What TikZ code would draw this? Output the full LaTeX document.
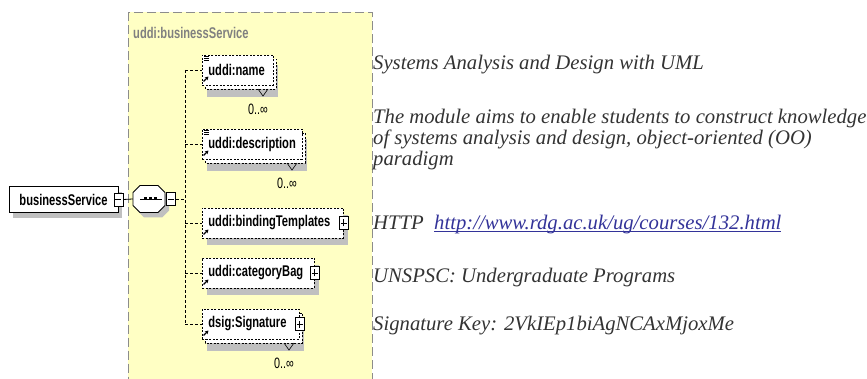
\documentclass[tikz,border=0pt]{standalone}
\usepackage{fontspec}
\setmainfont{Liberation Serif}
\newfontfamily\xsdfont[FakeStretch=0.72]{Liberation Sans}
\usepackage{tikz}
\usetikzlibrary{arrows.meta, positioning, calc}
\definecolor{xsdYellow}{HTML}{FFFFC4}
\definecolor{frameGray}{HTML}{8C8C8C}
\definecolor{labelGray}{HTML}{808080}
\definecolor{shadowGray}{HTML}{C0C0C0}
\definecolor{descGray}{HTML}{333333}
\definecolor{urlBlue}{HTML}{333399}
\tikzset{
    xsdbold/.style={font=\xsdfont\bfseries\fontsize{15.5}{17}\selectfont},
    elembox/.style={xsdbold, draw, fill=white, line width=0.8pt, dash pattern=on 2pt off 1.5pt,
        inner xsep=6pt, inner ysep=0pt, minimum height=30pt, align=left},
    backbox/.style={draw, fill=white, line width=0.8pt, dash pattern=on 2pt off 1.5pt},
    pmbox/.style={draw, fill=white, line width=0.7pt, inner sep=0pt, minimum width=9pt, minimum height=13pt},
    plusbox/.style={pmbox, path picture={
        \draw[line width=0.7pt] ([xshift=-3pt]path picture bounding box.center) -- ([xshift=3pt]path picture bounding box.center)
            ([yshift=-3.5pt]path picture bounding box.center) -- ([yshift=3.5pt]path picture bounding box.center);}},
    minusbox/.style={pmbox, path picture={
        \draw[line width=0.7pt] ([xshift=-3pt]path picture bounding box.center) -- ([xshift=3pt]path picture bounding box.center);}},
    busline/.style={line width=0.8pt, dash pattern=on 3pt off 2pt},
    occurs/.style={font=\xsdfont\fontsize{15}{15}\selectfont, inner sep=0pt},
    desc/.style={font=\itshape\fontsize{20.7}{21}\selectfont, text=descGray, inner sep=0pt},
}
% underline like a browser link
\newcommand{\WebLink}[1]{\setbox0=\hbox{#1}\rlap{\rule[-2.2pt]{\wd0}{0.9pt}}\box0}
% single child element: name, centre y, box width, text
\newcommand{\XsdElem}[4]{
    \pgfmathsetlengthmacro{\elemTW}{#3-12}
    \fill[shadowGray] (207,#2-8) rectangle (207+#3,#2+22);
    \node[elembox, text width=\elemTW, anchor=west] (#1) at (202,#2) {\mbox{#4}};
    \draw[line width=1.2pt, -{Stealth[length=3.5pt, width=4pt]}] (203.5,#2+11.5) -- (208.5,#2+6.5);
}
% repeated child element (0..unbounded)
\newcommand{\XsdRepElem}[4]{
    \pgfmathsetlengthmacro{\elemTW}{#3-12}
    \fill[shadowGray] (207,#2-5) rectangle (207+#3,#2+27);
    \draw[backbox] (205,#2-11) rectangle (205+#3,#2+19);
    \draw[line width=0.6pt] (187+#3,#2+19) -- (192+#3,#2+26) -- (197+#3,#2+19);
    \node[elembox, text width=\elemTW, anchor=west] (#1) at (202,#2) {\mbox{#4}};
    \draw[line width=1.2pt, -{Stealth[length=3.5pt, width=4pt]}] (203.5,#2+11.5) -- (208.5,#2+6.5);
    \node[occurs] (#1Occ) at (187+#3,#2+39) {0..∞};
}
\newcommand{\DocIcon}[1]{
    \foreach \dy in {2,4,6} \draw[line width=0.6pt] ($(#1.north west)+(2,\dy)$) -- ++(5,0);
}
\newcommand{\DrawSeq}[2]{
    \begin{scope}[shift={(#1,#2)}]
        \fill[shadowGray, shift={(4,5)}] (-9,-13.5) -- (9,-13.5) -- (16,-6.5) -- (16,6.5) -- (9,13.5) -- (-9,13.5) -- (-16,6.5) -- (-16,-6.5) -- cycle;
        \draw[fill=white, line width=0.8pt] (-9,-13.5) -- (9,-13.5) -- (16,-6.5) -- (16,6.5) -- (9,13.5) -- (-9,13.5) -- (-16,6.5) -- (-16,-6.5) -- cycle;
        \draw[line width=0.8pt] (-9,0) -- (13,0);
        \foreach \dx in {-4,1,6} \fill (\dx-1.5,-1.5) rectangle (\dx+1.5,1.5);
    \end{scope}
}
\begin{document}
\begin{tikzpicture}[x=1pt, y=-1pt]
    \useasboundingbox (0,0) rectangle (867,379);
    \clip (0,0) rectangle (867,379);

    % --- CONTAINER ---
    \draw[fill=xsdYellow, draw=frameGray, line width=1pt, dash pattern=on 9pt off 4pt] (128,12.5) rectangle (372,400);
    \node[xsdbold, text=labelGray, anchor=west, inner sep=0pt] (bsvcLabel) at (133,33) {uddi:businessService};

    % --- ROOT ELEMENT ---
    \fill[shadowGray] (13,192) rectangle (122,218);
    \node[xsdbold, draw, fill=white, line width=0.8pt, minimum width=109pt, minimum height=26pt, inner sep=0pt] (bsvc) at (63.5,199.5) {businessService};
    \node[minusbox] (bsvcMinus) at (bsvc.east) {};

    % --- SEQUENCE ---
    \DrawSeq{149}{199}
    \node[minimum width=32pt, minimum height=27pt, inner sep=0pt] (seq) at (149,199) {};
    \node[minusbox, anchor=west] (seqMinus) at ([xshift=1pt]seq.east) {};
    \draw[line width=0.8pt] (bsvcMinus.east) -- (seq.west);

    % --- CHILDREN ---
    \XsdRepElem{elName}{70}{71}{uddi:name}
    \DocIcon{elName}
    \XsdRepElem{elDesc}{144}{100}{uddi:description}
    \DocIcon{elDesc}
    \XsdElem{elBind}{223}{141}{uddi:bindingTemplates}
    \node[plusbox] (bindPlus) at (elBind.east) {};
    \XsdElem{elCat}{273}{112}{uddi:categoryBag}
    \node[plusbox] (catPlus) at (elCat.east) {};
    \XsdRepElem{elSig}{324}{97}{dsig:Signature}
    \node[plusbox] (sigPlus) at (elSig.east) {};

    % bus from the sequence to each child
    \coordinate (bus) at (185,199);
    \draw[busline] (seqMinus.east) -- (bus);
    \draw[busline] (bus |- elName.west) -- (bus |- elSig.west);
    \foreach \el in {elName,elDesc,elBind,elCat,elSig}
        \draw[busline] (bus |- \el.west) -- (\el.west);

    % --- RIGHT HAND TEXT ---
    \node[desc, anchor=base west] (infoName) at (373,70) {Systems Analysis and Design with UML};
    \node[desc, anchor=north west, align=left] (infoDesc) at (373,109) {The module aims to enable students to construct knowledge\\of systems analysis and design, object-oriented (OO)\\paradigm};
    \node[desc, anchor=base west] (infoBind) at (373,230) {HTTP\ \ \textcolor{urlBlue}{\WebLink{http://www.rdg.ac.uk/ug/courses/132.html}}};
    \node[desc, anchor=base west] (infoCat) at (373,282.5) {UNSPSC: Undergraduate Programs};
    \node[desc, anchor=base west] (infoSig) at (373,330.5) {Signature Key: 2VkIEp1biAgNCAxMjoxMe};
\end{tikzpicture}
\end{document}
